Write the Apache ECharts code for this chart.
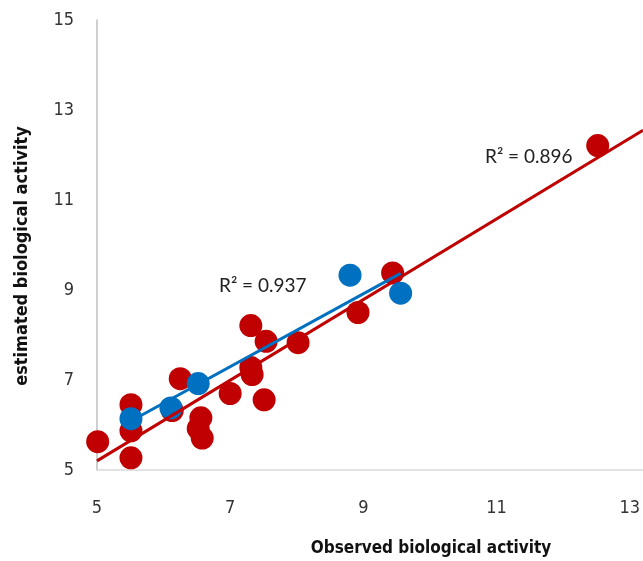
<!DOCTYPE html>
<html><head><meta charset="utf-8">
<script src="https://cdn.jsdelivr.net/npm/echarts@6/dist/echarts.min.js"></script>
<style>html,body{margin:0;padding:0;background:#fff}#c{width:643px;height:561px}</style>
</head><body><div id="c"></div>
<script>
// Training set (red)
const trainObserved = [5.01,5.51,5.51,5.51,6.13,6.25,6.56,6.52,6.58,7.00,7.31,7.31,7.33,7.51,7.54,8.02,8.92,9.44,12.52];
const trainEstimated = [5.63,5.27,5.87,6.45,6.32,7.03,6.16,5.92,5.71,6.70,8.21,7.28,7.12,6.56,7.86,7.83,8.50,9.38,12.21];
// Test set (blue)
const testObserved = [5.51,6.11,6.52,8.80,9.56];
const testEstimated = [6.14,6.38,6.92,9.33,8.93];
const xTicks = [5,7,9,11,13];
const yTicks = [5,7,9,11,13,15];
const trainR2 = 'R² = 0.896';
const testR2 = 'R² = 0.937';

function fit(xs, ys){
  const n = xs.length;
  const mx = xs.reduce((a,b)=>a+b,0)/n, my = ys.reduce((a,b)=>a+b,0)/n;
  let sxy=0,sxx=0;
  for(let i=0;i<n;i++){sxy+=(xs[i]-mx)*(ys[i]-my);sxx+=(xs[i]-mx)**2;}
  const b = sxy/sxx; return {a: my-b*mx, b};
}
const fr = fit(trainObserved, trainEstimated);
const fb = fit(testObserved, testEstimated);
const xMin = 5, xMax = 13.2;
const tbMin = Math.min(...testObserved), tbMax = Math.max(...testObserved);

const chart = echarts.init(document.getElementById('c'));
const labelFont = '"Liberation Sans Narrow", "DejaVu Sans Condensed", sans-serif';
chart.setOption({
  animation:false,
  grid:{left:97,right:0,top:20,bottom:91,outerBoundsMode:'none',containLabel:false},
  xAxis:{type:'value',min:xMin,max:xMax,interval:2,
    axisLine:{show:true,lineStyle:{color:'#D9D9D9',width:1.5}},
    axisTick:{show:false},splitLine:{show:false},
    axisLabel:{margin:29,fontSize:18,color:'#333',fontFamily:labelFont,
      formatter:v=>xTicks.includes(Math.round(v*1000)/1000)?String(Math.round(v)):''},
    name:'Observed biological activity',nameLocation:'middle',nameGap:70,
    nameTextStyle:{fontSize:17,fontWeight:'bold',color:'#111',fontFamily:labelFont,padding:[0,0,0,122]}
  },
  yAxis:{type:'value',min:5,max:15,interval:2,
    axisLine:{show:true,lineStyle:{color:'#BFBFBF',width:1.5}},
    axisTick:{show:false},splitLine:{show:false},
    axisLabel:{margin:23,fontSize:18,color:'#333',fontFamily:labelFont,
      formatter:v=>yTicks.includes(v)?String(v):''},
    name:'estimated biological activity',nameLocation:'middle',nameGap:66,
    nameTextStyle:{fontSize:18,fontWeight:'bold',color:'#111',fontFamily:labelFont,padding:[0,22,0,0]}
  },
  series:[
    {type:'scatter',symbolSize:23,itemStyle:{color:'#C00000',opacity:1},
      data:trainObserved.map((x,i)=>[x,trainEstimated[i]]),z:2},
    {type:'scatter',symbolSize:23,itemStyle:{color:'#0070C0',opacity:1},
      data:testObserved.map((x,i)=>[x,testEstimated[i]]),z:3},
    {type:'line',showSymbol:false,symbol:'none',lineStyle:{color:'#C00000',width:3},
      data:[[xMin,fr.a+fr.b*xMin],[xMax,fr.a+fr.b*xMax]],z:4},
    {type:'line',showSymbol:false,symbol:'none',lineStyle:{color:'#0070C0',width:3},
      data:[[tbMin,fb.a+fb.b*tbMin],[tbMax,fb.a+fb.b*tbMax]],z:5}
  ],
  graphic:[
    {type:'text',left:485,top:147,style:{text:trainR2,fontSize:19,fill:'#222',fontFamily:'Lato, sans-serif'}},
    {type:'text',left:219,top:276,style:{text:testR2,fontSize:19,fill:'#222',fontFamily:'Lato, sans-serif'}}
  ]
});
</script></body></html>
